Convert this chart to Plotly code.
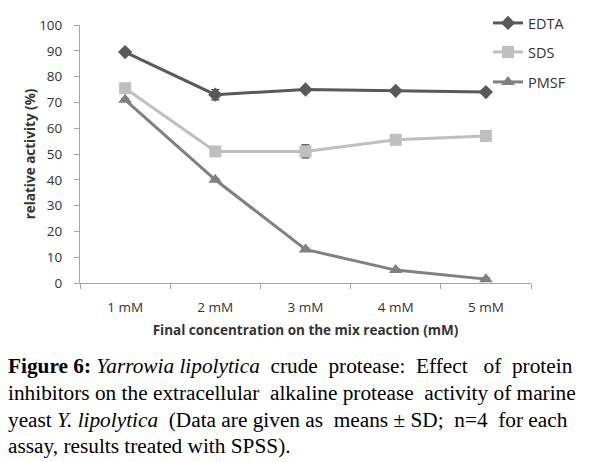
import plotly.graph_objects as go

categories = ["1 mM", "2 mM", "3 mM", "4 mM", "5 mM"]
edta = [89.5, 73, 75, 74.5, 74]
edta_sd = [0.5, 2, 0.5, 0.5, 0.5]
sds = [75.5, 51, 51, 55.5, 57]
sds_sd = [0.5, 0.5, 2.5, 1.5, 0.5]
pmsf = [71, 40, 13, 5, 1.5]
pmsf_sd = [0.5, 0.5, 0.5, 0.5, 0.5]

W, H = 594, 462
L, R, T, B = 80, 63, 25, 179
PW, PH = W - L - R, H - T - B

fig = go.Figure()
series = [
    ("EDTA", edta, edta_sd, "#595959", "diamond", 11, "legend", 23),
    ("SDS", sds, sds_sd, "#BFBFBF", "square", 12, "legend2", 52),
    ("PMSF", pmsf, pmsf_sd, "#808080", "triangle-up", 12, "legend3", 82),
]
for name, vals, sd, col, sym, ms, lg, ly in series:
    fig.add_trace(go.Scatter(
        x=categories, y=vals, name=name, mode="lines+markers",
        line=dict(color=col, width=3),
        marker=dict(symbol=sym, size=ms, color=col),
        error_y=dict(type="data", array=sd, color="#333333", thickness=1.2, width=4),
        legend=lg,
    ))

def legpos(ly):
    return dict(x=(488 - L) / PW, y=1 - (ly - T) / PH, xanchor="left",
                yanchor="middle", bgcolor="rgba(0,0,0,0)",
                font=dict(family="Open Sans", size=14.5, color="#333333"),
                itemwidth=30)

fig.update_layout(
    width=W, height=H,
    margin=dict(l=L, r=R, t=T, b=B, autoexpand=False),
    plot_bgcolor="white", paper_bgcolor="white",
    showlegend=True,
    legend=legpos(23), legend2=legpos(52), legend3=legpos(82),
    xaxis=dict(type="category", range=[-0.5, 4.5], showline=True, linecolor="#A6A6A6",
               linewidth=1, ticks="outside", tickson="boundaries", ticklen=5,
               tickcolor="#A6A6A6", showgrid=False, ticklabelstandoff=12,
               tickfont=dict(family="Open Sans", size=13.5, color="#333333"),
               title=dict(text="<b>Final concentration on the mix reaction (mM)</b>",
                          font=dict(family="Open Sans", size=13.5, color="#333333"),
                          standoff=10)),
    yaxis=dict(range=[0, 100], dtick=10, showline=True, linecolor="#A6A6A6", linewidth=1,
               ticks="outside", ticklen=5, tickcolor="#A6A6A6", showgrid=False,
               zeroline=False, ticklabelstandoff=9,
               tickfont=dict(family="Open Sans", size=13.5, color="#333333"),
               title=dict(text="<b>relative activity (%)</b>",
                          font=dict(family="Open Sans", size=13.5, color="#333333"),
                          standoff=0)),
)

caption = [
    "<b>Figure 6:</b> <i>Yarrowia lipolytica</i>  crude  protease:  Effect   of  protein",
    "inhibitors on the extracellular  alkaline protease  activity of marine",
    "yeast <i>Y. lipolytica</i>  (Data are given as  means ± SD;  n=4  for each",
    "assay, results treated with SPSS).",
]
ys = [366, 393, 420, 446]
for txt, yy in zip(caption, ys):
    fig.add_annotation(text=txt, xref="paper", yref="paper",
                       x=(6 - L) / PW, y=1 - (yy - T) / PH,
                       xanchor="left", yanchor="middle", showarrow=False,
                       font=dict(family="Liberation Serif", size=21.3, color="black"))

fig.write_html("out.html", config={"displayModeBar": False},
               post_script="document.body.style.margin='0';")
